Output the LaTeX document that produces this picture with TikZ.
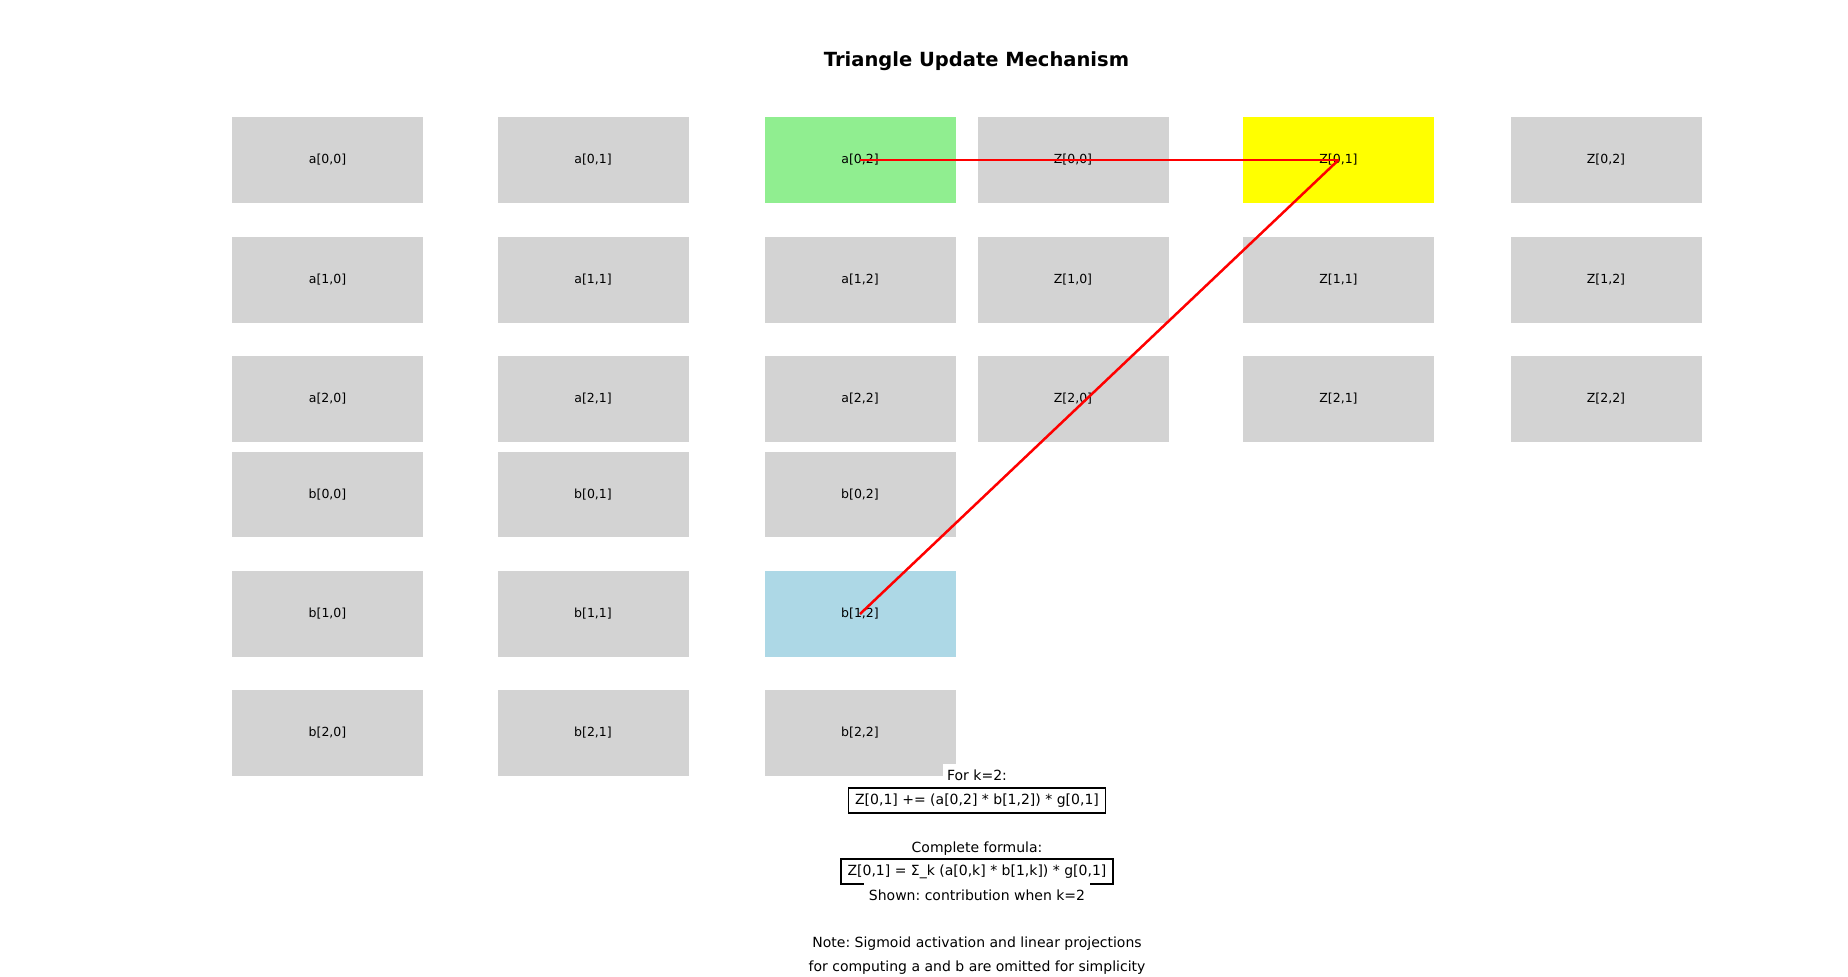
\documentclass[tikz,border=0pt]{standalone}
\usepackage{fontspec}
\setmainfont{DejaVu Sans}
\definecolor{cellgray}{HTML}{D3D3D3}
\definecolor{hlgreen}{HTML}{90EE90}
\definecolor{hlyellow}{HTML}{FFFF00}
\definecolor{hlblue}{HTML}{ADD8E6}
\frenchspacing
\begin{document}
\begin{tikzpicture}[x=1pt,y=-1pt,
  cell/.style={minimum width=191pt, minimum height=85.7pt, inner sep=0pt, fill=cellgray, font=\fontsize{12.5}{14}\selectfont},
  link/.style={draw=red, line width=2.5pt},
  plain/.style={fill=white, inner xsep=4.5pt, inner ysep=6pt, text height=10.6pt, text depth=3.3pt, anchor=base, font=\fontsize{14}{16}\selectfont},
  formula/.style={draw=black, line width=1.2pt, fill=white, inner xsep=6.5pt, inner ysep=5.5pt, text height=10.6pt, text depth=3.3pt, font=\fontsize{14}{16}\selectfont}]
\useasboundingbox (0,0) rectangle (1848,977);
\node[font=\fontsize{19.5}{22}\selectfont\bfseries, anchor=base] (title) at (976.5,66) {Triangle Update Mechanism};
% a matrix
\foreach \r/\y in {0/160,1/280,2/399}{
  \foreach \c/\x in {0/327.5,1/593,2/860}{
    \node[cell] (a\r\c) at (\x,\y) {a[\r,\c]};
  }
}
% b matrix
\foreach \r/\y in {0/494.5,1/614,2/733}{
  \foreach \c/\x in {0/327.5,1/593,2/860}{
    \node[cell] (b\r\c) at (\x,\y) {b[\r,\c]};
  }
}
% Z matrix
\foreach \r/\y in {0/160,1/280,2/399}{
  \foreach \c/\x in {0/1073,1/1338.5,2/1606}{
    \node[cell] (z\r\c) at (\x,\y) {Z[\r,\c]};
  }
}
% highlighted cells
\node[cell, fill=hlgreen] (ha02) at (a02) {a[0,2]};
\node[cell, fill=hlblue] (hb12) at (b12) {b[1,2]};
\node[cell, fill=hlyellow] (hz01) at (z01) {Z[0,1]};
% connectors
\draw[link] (ha02.center) -- (hz01.center);
\draw[link] (hb12.center) -- (hz01.center);
% texts
\node[plain] (fork) at (977,780.7) {For k=2:};
\node[formula] (f1) at (977,800.5) {Z[0,1] += (a[0,2] * b[1,2]) * g[0,1]};
\node[plain] (compl) at (977,852.5) {Complete formula:};
\node[formula] (f2) at (977,871.5) {Z[0,1] = Σ\_k (a[0,k] * b[1,k]) * g[0,1]};
\node[plain] (shown) at (977,900) {Shown: contribution when k=2};
\node[plain] (note1) at (977,947.5) {Note: Sigmoid activation and linear projections};
\node[plain] (note2) at (977,971) {for computing a and b are omitted for simplicity};
\end{tikzpicture}
\end{document}
